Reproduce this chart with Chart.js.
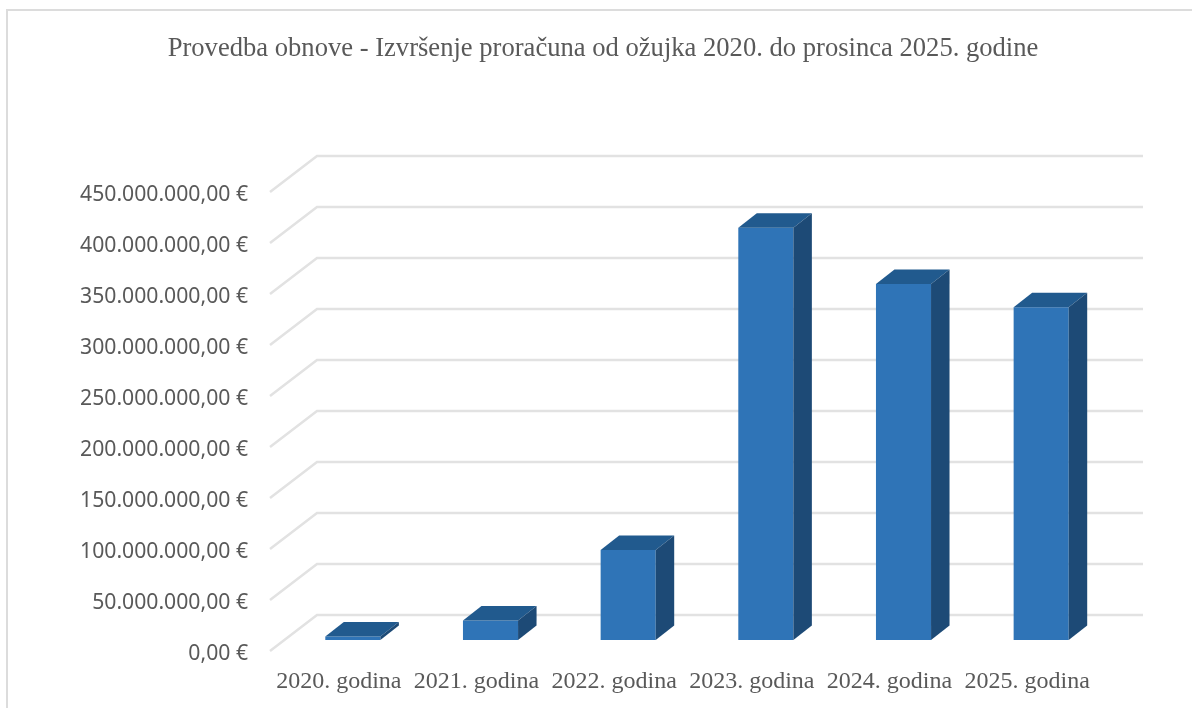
<!DOCTYPE html>
<html>
<head>
<meta charset="utf-8">
<style>
    html, body { margin: 0; padding: 0; background: #fff; overflow: hidden; }
    #wrap { position: relative; width: 1192px; height: 708px; }
    #frame { position: absolute; left: 6px; top: 9px; right: -4px; bottom: -4px; border: 2px solid #dcdcdc; }
    canvas { position: absolute; left: 0; top: 0; filter: blur(0.5px); }
</style>
<script src="https://cdn.jsdelivr.net/npm/chart.js@4/dist/chart.umd.js"></script>
</head>
<body>
<div id="wrap">
    <div id="frame"></div>
    <canvas id="chart" width="1192" height="708"></canvas>
</div>
<script>
var titleText = 'Provedba obnove - Izvršenje proračuna od ožujka 2020. do prosinca 2025. godine';
var categories = ['2020. godina', '2021. godina', '2022. godina', '2023. godina', '2024. godina', '2025. godina'];
var budget = [3400000, 19000000, 88200000, 404200000, 349000000, 326200000];
var yTickLabels = ['0,00 €', '50.000.000,00 €', '100.000.000,00 €', '150.000.000,00 €', '200.000.000,00 €',
    '250.000.000,00 €', '300.000.000,00 €', '350.000.000,00 €', '400.000.000,00 €', '450.000.000,00 €'];

// fake 3D: wall sits behind the floor front edge, bars stand halfway in
var wallDx = 47, wallDy = -36;
var barDx = 14, barDy = -11;
var depthDx = 18.5, depthDy = -14.5;

var fake3d = {
    id: 'fake3d',
    afterLayout: function (chart) {
        // title is centred on the whole page, not on the padded area
        chart.titleBlock.right = chart.width;
    },
    beforeDatasetsDraw: function (chart) {
        var c = chart.ctx, y = chart.scales.y, area = chart.chartArea;
        c.save();
        c.strokeStyle = '#e2e2e2';
        c.lineWidth = 2.5;
        y.ticks.forEach(function (t) {
            var py = y.getPixelForValue(t.value);
            c.beginPath();
            c.moveTo(area.left, py);
            c.lineTo(area.left + wallDx, py + wallDy);
            c.lineTo(area.right + wallDx, py + wallDy);
            c.stroke();
        });
        c.restore();
        c.save();
        c.translate(barDx, barDy);
    },
    afterDatasetsDraw: function (chart) {
        var c = chart.ctx;
        chart.getDatasetMeta(0).data.forEach(function (bar) {
            var left = bar.x - bar.width / 2, right = bar.x + bar.width / 2;
            c.fillStyle = '#215a8e';
            c.beginPath();
            c.moveTo(left, bar.y);
            c.lineTo(left + depthDx, bar.y + depthDy);
            c.lineTo(right + depthDx, bar.y + depthDy);
            c.lineTo(right, bar.y);
            c.closePath();
            c.fill();
            c.fillStyle = '#1d4a76';
            c.beginPath();
            c.moveTo(right, bar.y);
            c.lineTo(right + depthDx, bar.y + depthDy);
            c.lineTo(right + depthDx, bar.base + depthDy);
            c.lineTo(right, bar.base);
            c.closePath();
            c.fill();
        });
        c.restore();
    }
};

new Chart(document.getElementById('chart'), {
    type: 'bar',
    data: {
        labels: categories,
        datasets: [{
            data: budget,
            backgroundColor: '#2f74b7',
            categoryPercentage: 1,
            barPercentage: 0.4
        }]
    },
    options: {
        responsive: false,
        animation: false,
        layout: { padding: { left: 14, right: 96, top: 0, bottom: 0 } },
        plugins: {
            legend: { display: false },
            tooltip: { enabled: false },
            title: {
                display: true,
                text: titleText,
                color: '#595959',
                font: { family: '"Liberation Serif"', size: 26.6, weight: 'normal', lineHeight: 1.2 },
                padding: { top: 33, bottom: 127 }
            }
        },
        scales: {
            x: {
                grid: { display: false },
                border: { display: false },
                ticks: {
                    color: '#595959',
                    maxRotation: 0,
                    autoSkip: false,
                    padding: 8,
                    font: { family: '"Liberation Serif"', size: 24 }
                },
                afterFit: function (scale) { scale.height = 57; }
            },
            y: {
                min: 0,
                max: 450000000,
                grid: { display: false },
                border: { display: false },
                ticks: {
                    stepSize: 50000000,
                    color: '#595959',
                    padding: 14,
                    labelOffset: 3,
                    font: { family: '"Noto Sans"', size: 21.2 },
                    callback: function (value, index) { return yTickLabels[index]; }
                },
                afterFit: function (scale) { scale.width = 256; }
            }
        }
    },
    plugins: [fake3d]
});
</script>
</body>
</html>
